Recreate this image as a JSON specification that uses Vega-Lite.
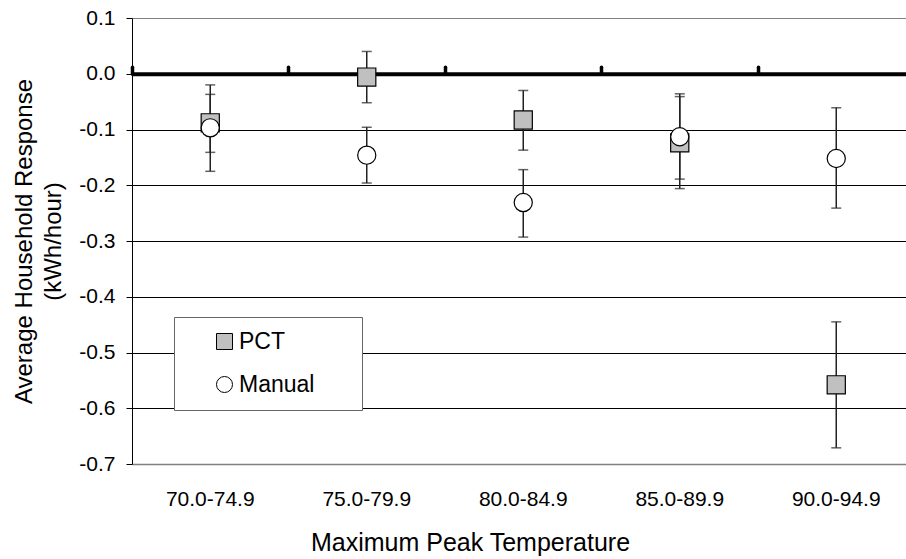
{
  "$schema": "https://vega.github.io/schema/vega-lite/v6.json",
  "width": 774,
  "height": 446,
  "autosize": {"type": "none"},
  "padding": {"left": 132, "top": 18, "right": 0, "bottom": 95},
  "config": {
    "view": {"stroke": null},
    "font": "Liberation Sans",
    "axis": {"labelFont": "Liberation Sans", "titleFont": "Liberation Sans"},
    "legend": {"labelFont": "Liberation Sans"}
  },
  "data": {
    "values": [
      {"cat": "70.0-74.9", "series": "PCT", "value": -0.088, "lo": -0.141, "hi": -0.037},
      {"cat": "75.0-79.9", "series": "PCT", "value": -0.006, "lo": -0.052, "hi": 0.040},
      {"cat": "80.0-84.9", "series": "PCT", "value": -0.083, "lo": -0.137, "hi": -0.030},
      {"cat": "85.0-89.9", "series": "PCT", "value": -0.124, "lo": -0.206, "hi": -0.041},
      {"cat": "90.0-94.9", "series": "PCT", "value": -0.558, "lo": -0.671, "hi": -0.445},
      {"cat": "70.0-74.9", "series": "Manual", "value": -0.097, "lo": -0.175, "hi": -0.020},
      {"cat": "75.0-79.9", "series": "Manual", "value": -0.146, "lo": -0.196, "hi": -0.096},
      {"cat": "80.0-84.9", "series": "Manual", "value": -0.231, "lo": -0.293, "hi": -0.172},
      {"cat": "85.0-89.9", "series": "Manual", "value": -0.113, "lo": -0.189, "hi": -0.036},
      {"cat": "90.0-94.9", "series": "Manual", "value": -0.152, "lo": -0.241, "hi": -0.061}
    ]
  },
  "layer": [
    {
      "mark": {"type": "rule", "strokeWidth": 1.5, "color": "#222222"},
      "encoding": {
        "x": {
          "field": "cat", "type": "nominal", "sort": null,
          "scale": {"range": [0, 782.5], "paddingInner": 0, "paddingOuter": 0},
          "axis": {
            "orient": "bottom", "ticks": false, "tickSize": 0, "grid": false,
            "domainColor": "#808080", "domainWidth": 1.5,
            "labelFontSize": 21, "labelColor": "black", "labelPadding": 24, "labelAngle": 0,
            "title": "Maximum Peak Temperature", "titleFontSize": 25, "titleFontWeight": "normal",
            "titleColor": "black", "titleX": 338, "titleY": 86, "titleBaseline": "alphabetic", "titleAlign": "center"
          }
        },
        "y": {
          "field": "lo", "type": "quantitative",
          "scale": {"domain": [-0.7, 0.1], "nice": false, "zero": false},
          "axis": {
            "values": [0.1, 0, -0.1, -0.2, -0.3, -0.4, -0.5, -0.6, -0.7],
            "format": ".1f",
            "labelExpr": "replace(datum.label, '\u2212', '-')",
            "grid": true,
            "gridColor": {"condition": {"test": "datum.value > 0.05 || datum.value < -0.65", "value": "#808080"}, "value": "black"},
            "gridWidth": 1,
            "domainColor": "black", "domainWidth": 1,
            "tickColor": "black", "tickSize": 6,
            "labelFontSize": 21, "labelColor": "black", "labelPadding": 11,
            "title": ["Average Household Response", "(kWh/hour)"],
            "titleFontSize": 24, "titleFontWeight": "normal", "titleColor": "black",
            "titlePadding": 13, "titleLineHeight": 29
          }
        },
        "y2": {"field": "hi"}
      }
    },
    {
      "mark": {"type": "tick", "size": 10, "thickness": 1.5, "color": "#222222"},
      "encoding": {
        "x": {
          "field": "cat", "type": "nominal", "sort": null,
          "scale": {"range": [0, 782.5], "paddingInner": 0, "paddingOuter": 0},
          "axis": {
            "orient": "top", "offset": -55.75, "labels": false, "title": null, "grid": false,
            "domainColor": "black", "domainWidth": 4,
            "ticks": true, "tickColor": "black", "tickSize": 7, "tickWidth": 3.5, "tickCap": "round",
            "bandPosition": 0
          }
        },
        "y": {"field": "lo", "type": "quantitative"}
      }
    },
    {
      "mark": {"type": "tick", "size": 10, "thickness": 1.5, "color": "#222222"},
      "encoding": {
        "x": {"field": "cat", "type": "nominal", "sort": null, "axis": null},
        "y": {"field": "hi", "type": "quantitative"}
      }
    },
    {
      "mark": {"type": "point", "filled": true, "size": 330, "stroke": "black", "strokeWidth": 1.2, "opacity": 1},
      "encoding": {
        "x": {"field": "cat", "type": "nominal", "sort": null, "axis": null},
        "y": {"field": "value", "type": "quantitative"},
        "shape": {
          "field": "series", "type": "nominal",
          "scale": {"domain": ["PCT", "Manual"], "range": ["square", "circle"]},
          "legend": {
            "orient": "none", "legendX": 42, "legendY": 299, "title": null,
            "padding": 13, "symbolOffset": 26, "symbolSize": 256,
            "symbolStrokeColor": "black", "symbolStrokeWidth": 1,
            "labelFontSize": 23, "labelColor": "black", "labelOffset": 3,
            "rowPadding": 19, "fillColor": "white", "strokeColor": "#666666",
            "labelExpr": "datum.label + '\u2800\u2800'",
            "symbolOpacity": 1,
            "symbolFillColor": "#c0c0c0",
            "encode": {
              "symbols": {"update": {"stroke": {"value": "black"}, "strokeWidth": {"value": 1}, "opacity": {"value": 1}}}
            }
          }
        },
        "fill": {
          "field": "series", "type": "nominal",
          "scale": {"domain": ["PCT", "Manual"], "range": ["#c0c0c0", "#ffffff"]}
        }
      }
    }
  ],
  "resolve": {"axis": {"x": "independent"}}
}
